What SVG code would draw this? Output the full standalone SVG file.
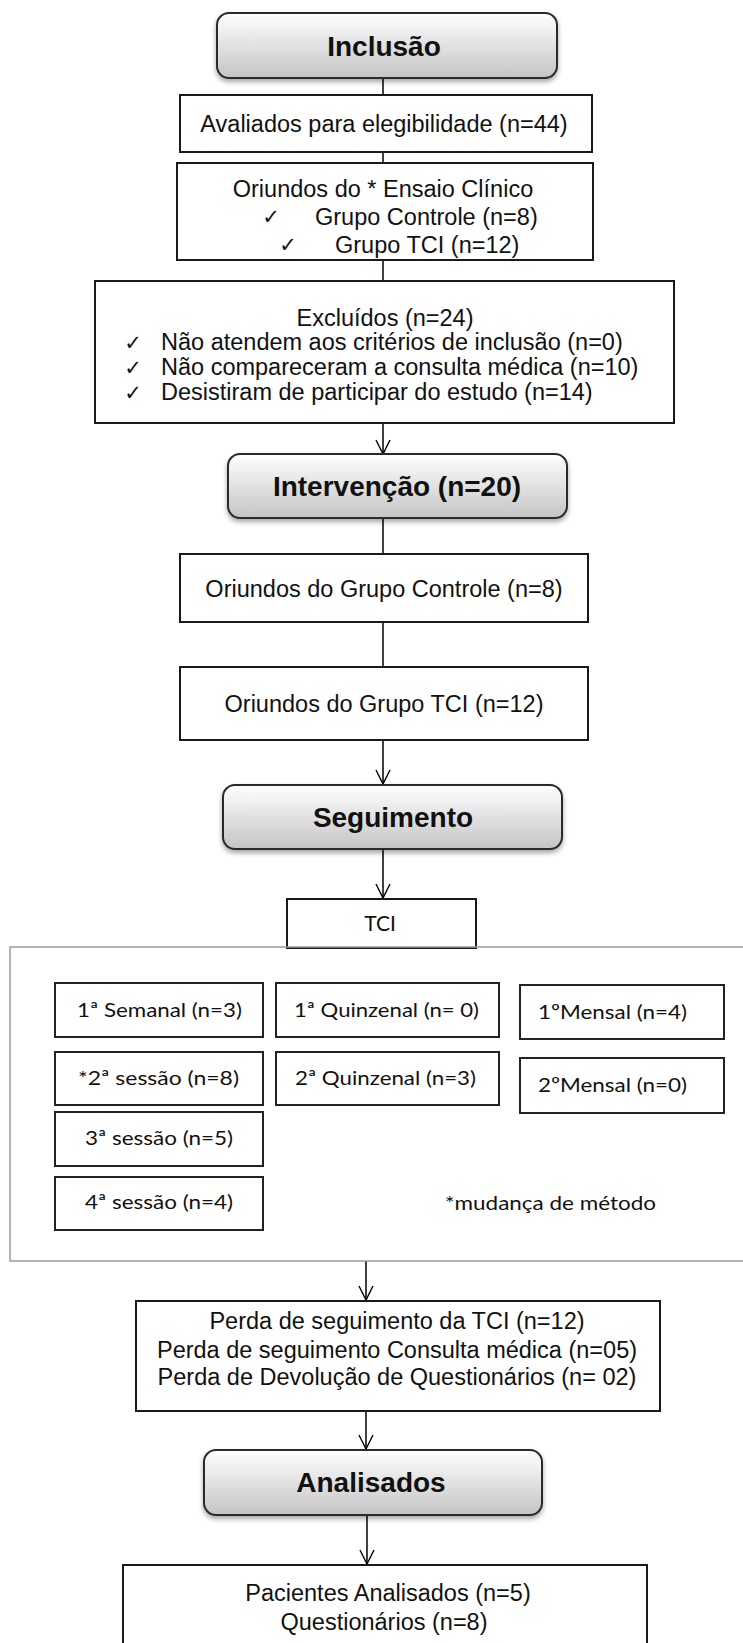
<svg xmlns="http://www.w3.org/2000/svg" width="743" height="1643" viewBox="0 0 743 1643">
<defs>
<linearGradient id="hdr" x1="0" y1="0" x2="0" y2="1">
<stop offset="0" stop-color="#ffffff"/>
<stop offset="1" stop-color="#c4c4c4"/>
</linearGradient>
<filter id="sh" x="-10%" y="-20%" width="120%" height="150%">
<feDropShadow dx="0" dy="3" stdDeviation="2.5" flood-color="#000" flood-opacity="0.35"/>
</filter>
<marker id="arr" viewBox="0 0 16 16" refX="15" refY="8" markerWidth="16" markerHeight="16" markerUnits="userSpaceOnUse" orient="auto">
<path d="M1,1 L15,8 L1,15" fill="none" stroke="#000" stroke-width="1.4"/>
</marker>
<style>
.hdr{fill:url(#hdr);stroke:#2a2a2a;stroke-width:2;filter:url(#sh)}
.box{fill:#fff;stroke:#1a1a1a;stroke-width:2}
.gbox{fill:#fff;stroke:#222;stroke-width:2}
.t{font-family:"Liberation Sans",Arial,sans-serif;font-size:23.5px;fill:#111}
.h{font-family:"Liberation Sans",Arial,sans-serif;font-size:28px;font-weight:bold;fill:#111}
.c{font-family:Lato,"Open Sans",sans-serif;font-size:20px;fill:#111}
.ck{font-family:"DejaVu Sans",sans-serif;font-size:21px;fill:#111}
.ln{stroke:#000;stroke-width:1.5;fill:none}
</style>
</defs>
<rect width="743" height="1643" fill="#fff"/>

<g id="connectors">
<line class="ln" x1="383" y1="78" x2="383" y2="95"/>
<line class="ln" x1="383" y1="152" x2="383" y2="163"/>
<line class="ln" x1="383" y1="260" x2="383" y2="281"/>
<line class="ln" x1="383" y1="423" x2="383" y2="454" marker-end="url(#arr)"/>
<line class="ln" x1="383" y1="518" x2="383" y2="554"/>
<line class="ln" x1="383" y1="622" x2="383" y2="667"/>
<line class="ln" x1="383" y1="740" x2="383" y2="784" marker-end="url(#arr)"/>
<line class="ln" x1="383" y1="849" x2="383" y2="898" marker-end="url(#arr)"/>
<line class="ln" x1="366" y1="1261" x2="366" y2="1300" marker-end="url(#arr)"/>
<line class="ln" x1="366" y1="1411" x2="366" y2="1449" marker-end="url(#arr)"/>
<line class="ln" x1="367" y1="1515" x2="367" y2="1564" marker-end="url(#arr)"/>
</g>

<g id="inclusao">
<rect class="hdr" x="217" y="13" width="340" height="65" rx="12"/>
<text class="h" x="384" y="56" text-anchor="middle">Inclusão</text>
</g>

<g id="avaliados">
<rect class="box" x="180" y="95" width="412" height="57"/>
<text class="t" x="384" y="132" text-anchor="middle">Avaliados para elegibilidade (n=44)</text>
</g>

<g id="oriundos-ensaio">
<rect class="box" x="177" y="163" width="416" height="97"/>
<text class="t" x="383" y="197" text-anchor="middle">Oriundos do * Ensaio Clínico</text>
<text class="ck" x="271" y="224" text-anchor="middle">✓</text>
<text class="t" x="315" y="225">Grupo Controle (n=8)</text>
<text class="ck" x="288" y="252" text-anchor="middle">✓</text>
<text class="t" x="335" y="253">Grupo TCI  (n=12)</text>
</g>

<g id="excluidos">
<rect class="box" x="95" y="281" width="579" height="142"/>
<text class="t" x="385" y="326" text-anchor="middle">Excluídos (n=24)</text>
<text class="ck" x="133" y="350" text-anchor="middle">✓</text>
<text class="t" x="161" y="350">Não atendem aos critérios de inclusão (n=0)</text>
<text class="ck" x="133" y="375" text-anchor="middle">✓</text>
<text class="t" x="161" y="375">Não compareceram a consulta médica (n=10)</text>
<text class="ck" x="133" y="400" text-anchor="middle">✓</text>
<text class="t" x="161" y="400">Desistiram de participar do estudo (n=14)</text>
</g>

<g id="intervencao">
<rect class="hdr" x="228" y="454" width="339" height="64" rx="12"/>
<text class="h" x="397" y="496" text-anchor="middle">Intervenção (n=20)</text>
</g>

<g id="grupo-controle">
<rect class="box" x="180" y="554" width="408" height="68"/>
<text class="t" x="384" y="597" text-anchor="middle">Oriundos do Grupo Controle (n=8)</text>
</g>

<g id="grupo-tci">
<rect class="box" x="180" y="667" width="408" height="73"/>
<text class="t" x="384" y="712" text-anchor="middle">Oriundos do Grupo TCI (n=12)</text>
</g>

<g id="seguimento">
<rect class="hdr" x="223" y="785" width="339" height="64" rx="12"/>
<text class="h" x="393" y="827" text-anchor="middle">Seguimento</text>
</g>

<g id="tci">
<rect class="box" x="287" y="899" width="189" height="49"/>
<text class="c" x="380" y="931" text-anchor="middle" style="font-size:21px">TCI</text>
</g>

<g id="tci-detalhes">
<rect x="10" y="947" width="760" height="314" fill="none" stroke="#9a9a9a" stroke-width="1.5"/>
<rect class="gbox" x="55" y="983" width="208" height="54"/>
<text class="c" x="77" y="1017" textLength="165" lengthAdjust="spacingAndGlyphs">1ª Semanal (n=3)</text>
<rect class="gbox" x="276" y="983" width="223" height="54"/>
<text class="c" x="294" y="1017" textLength="185" lengthAdjust="spacingAndGlyphs">1ª Quinzenal (n= 0)</text>
<rect class="gbox" x="520" y="985" width="204" height="54"/>
<text class="c" x="538" y="1019" textLength="149" lengthAdjust="spacingAndGlyphs">1ºMensal (n=4)</text>
<rect class="gbox" x="55" y="1052" width="208" height="53"/>
<text class="c" x="78" y="1085" textLength="161" lengthAdjust="spacingAndGlyphs">*2ª sessão (n=8)</text>
<rect class="gbox" x="276" y="1052" width="223" height="53"/>
<text class="c" x="295" y="1085" textLength="181" lengthAdjust="spacingAndGlyphs">2ª Quinzenal (n=3)</text>
<rect class="gbox" x="520" y="1058" width="204" height="55"/>
<text class="c" x="538" y="1092" textLength="149" lengthAdjust="spacingAndGlyphs">2ºMensal (n=0)</text>
<rect class="gbox" x="55" y="1112" width="208" height="54"/>
<text class="c" x="85" y="1145" textLength="148" lengthAdjust="spacingAndGlyphs">3ª sessão (n=5)</text>
<rect class="gbox" x="55" y="1177" width="208" height="53"/>
<text class="c" x="85" y="1209" textLength="148" lengthAdjust="spacingAndGlyphs">4ª sessão (n=4)</text>
<text class="c" x="445" y="1210" textLength="211" lengthAdjust="spacingAndGlyphs">*mudança de método</text>
</g>

<g id="perdas">
<rect class="box" x="136" y="1301" width="524" height="110"/>
<text class="t" x="397" y="1329" text-anchor="middle">Perda de seguimento da TCI (n=12)</text>
<text class="t" x="397" y="1358" text-anchor="middle">Perda de seguimento Consulta médica (n=05)</text>
<text class="t" x="397" y="1385" text-anchor="middle">Perda de Devolução de Questionários (n= 02)</text>
</g>

<g id="analisados">
<rect class="hdr" x="204" y="1450" width="338" height="65" rx="12"/>
<text class="h" x="371" y="1492" text-anchor="middle">Analisados</text>
</g>

<g id="resultado">
<rect class="box" x="123" y="1565" width="524" height="100"/>
<text class="t" x="388" y="1601" text-anchor="middle">Pacientes Analisados (n=5)</text>
<text class="t" x="384" y="1630" text-anchor="middle">Questionários (n=8)</text>
</g>
</svg>
